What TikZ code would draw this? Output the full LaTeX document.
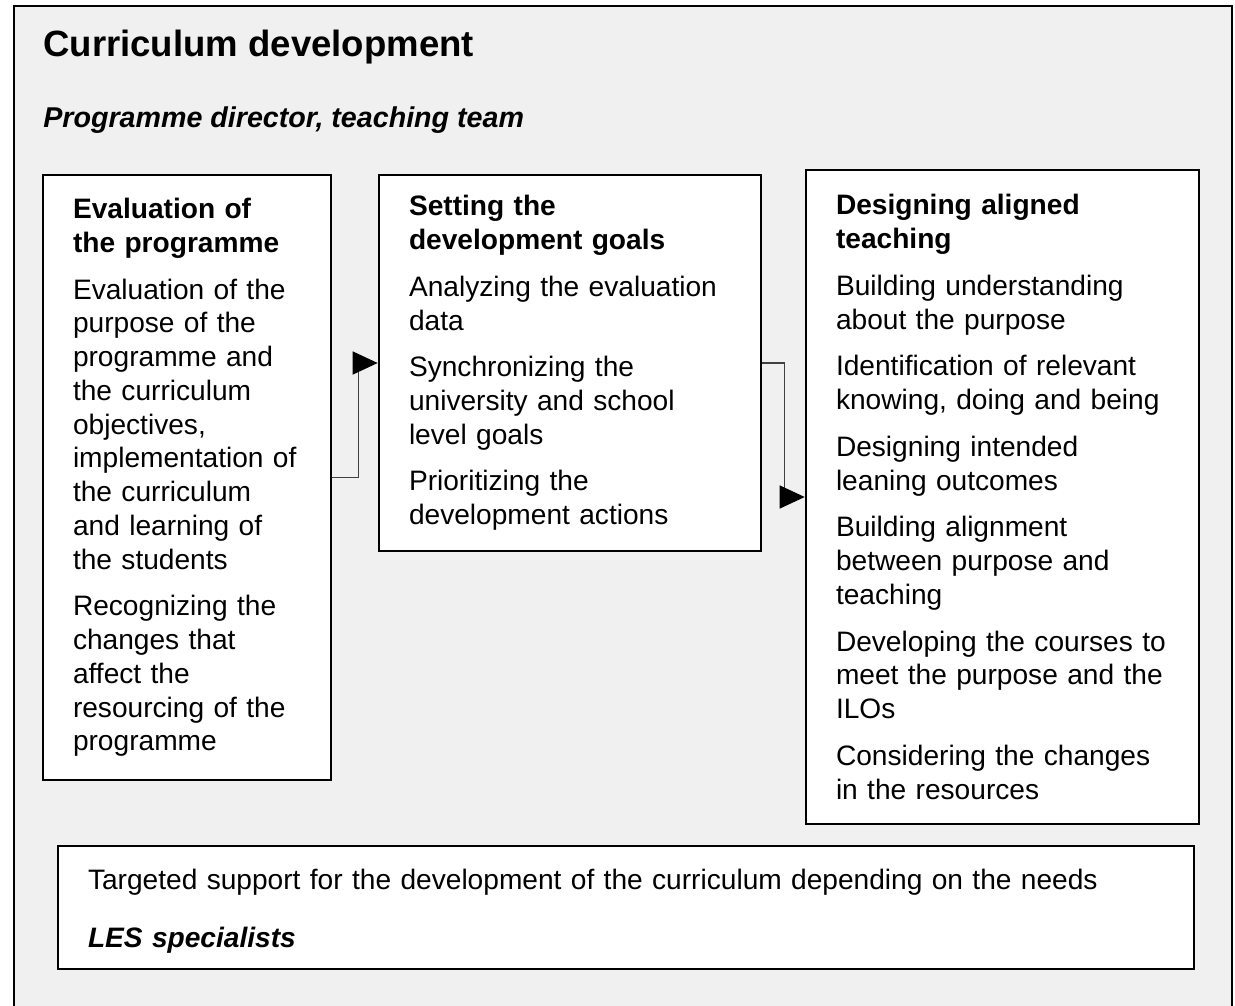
\documentclass[tikz,border=0pt]{standalone}
\usepackage{fontspec}
\setmainfont{Liberation Sans}
\usetikzlibrary{arrows.meta}
\definecolor{panelgrey}{RGB}{240,240,240}

\def\padsep{0.6cm}

\begin{document}
\begin{tikzpicture}
	    \tikzstyle{stage}=[rectangle, draw=black, line width=1.5pt, fill=white, inner xsep=\padsep, inner ysep=0pt, align=left, font=\fontsize{16}{19.2}\selectfont]
	    \tikzstyle{heading}=[inner sep=0pt, anchor=base west]
	    \tikzstyle{flow}=[draw=black!75, line width=0.8pt, -{Triangle[length=0.5cm,width=0.46cm,color=black]}]
	    \useasboundingbox (0,0) rectangle (24.7,-20.12);

	    %%% BACKGROUND PANEL
	    \draw[line width=1.5pt, fill=panelgrey] (0.28,-20.6) -- (0.28,-0.12) -- (24.64,-0.12) -- (24.64,-20.6);

	    %%% TITLES
	    \node[heading, font=\fontsize{20.8}{24}\selectfont\bfseries] (title) at (0.86,-1.14) {Curriculum development};
	    \node[heading, font=\fontsize{16.3}{19.2}\selectfont\bfseries\itshape] (who) at (0.86,-2.54) {Programme director, teaching team};

	    %%% DRAW THE STAGES
	    \node[stage, minimum width=5.76cm, minimum height=12.1cm, text width=5.76cm-2*\padsep] (eval) at (3.74,-9.55) {{\bfseries Evaluation of\\ the programme}\\[7.4pt]
	        Evaluation of the\\ purpose of the\\ programme and\\ the curriculum\\ objectives,\\ implementation of\\ the curriculum\\ and learning of\\ the students\\[7.4pt]
	        Recognizing the\\ changes that\\ affect the\\ resourcing of the\\ programme};
	    \node[stage, minimum width=7.64cm, minimum height=7.52cm, text width=7.64cm-2*\padsep] (goals) at (11.40,-7.26) {{\bfseries Setting the\\ development goals}\\[7.4pt]
	        Analyzing the evaluation\\ data\\[7.4pt]
	        Synchronizing the\\ university and school\\ level goals\\[7.4pt]
	        Prioritizing the\\ development actions};
	    \node[stage, minimum width=7.86cm, minimum height=13.08cm, text width=7.86cm-2*\padsep] (design) at (20.05,-9.94) {{\bfseries Designing aligned\\ teaching}\\[7.4pt]
	        Building understanding\\ about the purpose\\[7.4pt]
	        Identification of relevant\\ knowing, doing and being\\[7.4pt]
	        Designing intended\\ leaning outcomes\\[7.4pt]
	        Building alignment\\ between purpose and\\ teaching\\[7.4pt]
	        Developing the courses to\\ meet the purpose and the\\ ILOs\\[7.4pt]
	        Considering the changes\\ in the resources};
	    \node[stage, minimum width=22.72cm, minimum height=2.46cm, text width=22.72cm-2*\padsep] (support) at (12.52,-18.15) {\rule{0pt}{16pt}Targeted support for the development of the curriculum depending on the needs\\[13.7pt]
	        {\bfseries\itshape LES specialists}};

	    %%% DRAW THE PATHS
	    \foreach \from / \to / \gap in {eval/goals/0.52, goals/design/0.44}
	        \draw[flow] (\from.east) -- ++(\gap,0) |- (\to.west);
\end{tikzpicture}
\end{document}
